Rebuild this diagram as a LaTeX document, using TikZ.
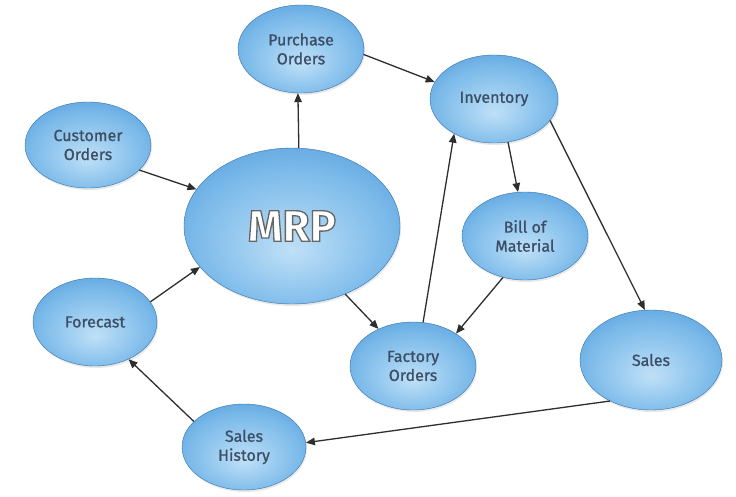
\documentclass[tikz,border=0pt]{standalone}
\usepackage{fontspec}
\setmainfont{Fira Sans}[UprightFeatures={FakeBold=0.9}]
\usetikzlibrary{arrows.meta,shapes.geometric,shadows}
\definecolor{bIn}{HTML}{BFE0F7}
\definecolor{bMid}{HTML}{7DBBEA}
\definecolor{bOut}{HTML}{3F8FD6}
\definecolor{txt}{HTML}{3B4E66}
\definecolor{arr}{HTML}{2E2E2E}
\pgfdeclareradialshading{bubble}{\pgfpoint{0bp}{-8bp}}{color(0bp)=(bIn); color(22bp)=(bMid); color(42bp)=(bOut); color(50bp)=(bOut)}
\font\mrpfnt="Fira Sans/B:embolden=3" at 44pt
\newcommand{\outlinedtext}[1]{{\mrpfnt\color{white}\special{pdf:literal direct 0.40 G}#1}}
\begin{document}
\begin{tikzpicture}[x=1pt,y=-1pt,
  bub/.style={ellipse, shading=bubble, draw=bOut!80!black, line width=0.4pt,
    minimum width=#1, inner sep=0pt, align=center, text=txt,
    font=\fontsize{16}{19}\selectfont,
    drop shadow={opacity=0.18, shadow xshift=1pt, shadow yshift=-2pt}},
  bub/.default={126pt},
  link/.style={draw=arr, line width=1.3pt, -{Triangle[length=9pt,width=7.5pt]}}]
\useasboundingbox[fill=white] (0,0) rectangle (736,497);

\node[bub, minimum height=88pt] (po) at (301,49) {Purchase\\Orders};
\node[bub=128pt, minimum height=88pt] (inv) at (494,99) {Inventory};
\node[bub, minimum height=86pt] (co) at (88,145) {Customer\\Orders};
\node[bub=216pt, minimum height=156pt] (mrp) at (292,226) {\outlinedtext{MRP}};
\node[bub, minimum height=88pt] (bom) at (525,236) {Bill of\\Material};
\node[bub=124pt, minimum height=88pt] (fc) at (95,322) {Forecast};
\node[bub, minimum height=88pt] (fo) at (413,366) {Factory\\Orders};
\node[bub=142pt, minimum height=100pt] (sales) at (651,360) {Sales};
\node[bub=124pt, minimum height=86pt] (sh) at (244,447) {Sales\\History};

\draw[link] (mrp.85.6) -- (po.266);
\draw[link] (po.-5.5) -- (inv.164);
\draw[link] (co.-26) -- (mrp.159.6);
\draw[link] (fc.20.8) -- (mrp.204.5);
\draw[link] (mrp.-52) -- (fo.133.6);
\draw[link] (fo.77) -- (inv.221);
\draw[link] (inv.-72) -- (bom.99);
\draw[link] (bom.242.4) -- (fo.37.5);
\draw[link] (inv.-21.6) -- (sales.97);
\draw[link] (sales.225.7) -- (sh.4);
\draw[link] (sh.153) -- (fc.-48.5);
\end{tikzpicture}
\end{document}
